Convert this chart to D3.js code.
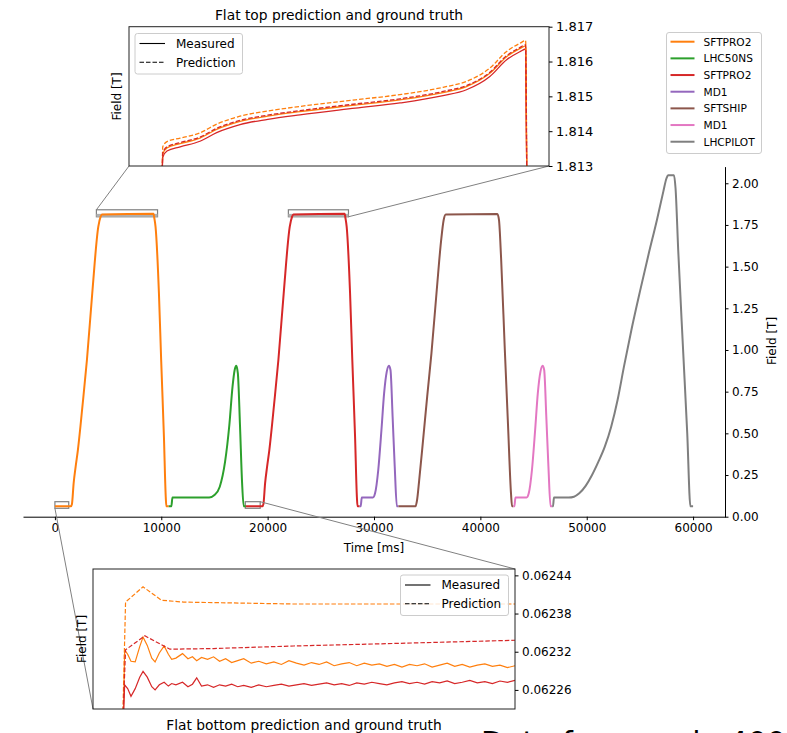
<!DOCTYPE html>
<html>
<head>
<meta charset="utf-8">
<script src="https://cdn.jsdelivr.net/npm/d3@7"></script>
<style>
  body { margin: 0; background: #fff; }
  text { font-family: "DejaVu Sans", sans-serif; fill: #000; }
</style>
</head>
<body>
<svg id="root" width="787" height="733"></svg>
<script>
// ---- data: one measured cycle per line, [time ms, field T]
const cycleNames = ["SFTPRO2", "LHC50NS", "SFTPRO2", "MD1", "SFTSHIP", "MD1", "LHCPILOT"];
const cycleColors = ["#ff7f0e", "#2ca02c", "#d62728", "#9467bd", "#8c564b", "#e377c2", "#7f7f7f"];

const sftpro2A = [[0,0.0623],[1500,0.0623],[1600,0.075],[1760,0.2],[1950,0.3],[2160,0.4],[2600,0.67],[3010,0.94],[3510,1.34],[4080,1.74],[4300,1.80],[4420,1.813],[9270,1.8165],[9350,1.79],[9460,1.74],[9780,1.34],[9990,0.94],[10250,0.48],[10420,0.12],[10480,0.0623],[10700,0.0623]];
const lhc50ns = [[10700,0.0623],[10950,0.0623],[11050,0.115],[14500,0.115],[15000,0.13],[15500,0.18],[16000,0.33],[16400,0.55],[16700,0.78],[16900,0.88],[17050,0.905],[17200,0.86],[17400,0.55],[17600,0.2],[17750,0.0623],[17950,0.0623]];
const sftpro2B = [[17950,0.0623],[19500,0.0623],[19600,0.075],[19760,0.2],[19950,0.3],[20160,0.4],[20600,0.67],[21010,0.94],[21510,1.34],[22080,1.74],[22300,1.80],[22420,1.813],[27240,1.8165],[27320,1.79],[27430,1.74],[27750,1.34],[27960,0.94],[28220,0.48],[28390,0.12],[28450,0.0623],[28650,0.0623]];
const md1A = [[28650,0.0623],[28750,0.0623],[28850,0.115],[29900,0.115],[30100,0.14],[30400,0.28],[30700,0.52],[30950,0.74],[31200,0.87],[31400,0.905],[31550,0.88],[31750,0.6],[31950,0.3],[32150,0.0623],[32300,0.0623]];
const sftship = [[32300,0.0623],[33900,0.0623],[34050,0.1],[34250,0.22],[34600,0.45],[35000,0.72],[35400,0.98],[35900,1.36],[36300,1.65],[36550,1.78],[36750,1.813],[41600,1.816],[41750,1.78],[41950,1.55],[42300,1.0],[42600,0.55],[42880,0.14],[42980,0.0623],[43100,0.0623]];
const md1B = [[43100,0.0623],[43200,0.0623],[43300,0.115],[44350,0.115],[44550,0.14],[44850,0.28],[45150,0.52],[45400,0.74],[45650,0.87],[45850,0.905],[46000,0.88],[46200,0.6],[46400,0.3],[46600,0.0623],[46750,0.0623]];
const lhcpilot = [[46750,0.0623],[46830,0.0623],[46920,0.115],[48300,0.115],[48800,0.12],[49300,0.14],[49900,0.185],[50500,0.25],[51100,0.33],[51700,0.42],[52300,0.54],[52900,0.70],[53500,0.90],[54200,1.12],[55000,1.35],[55800,1.57],[56600,1.78],[57200,1.95],[57500,2.03],[57650,2.048],[58200,2.048],[58350,1.97],[58600,1.6],[59060,1.0],[59450,0.5],[59750,0.0623],[60000,0.0623]];
const cycles = [sftpro2A, lhc50ns, sftpro2B, md1A, sftship, md1B, lhcpilot];

const xTicks = [0, 10000, 20000, 30000, 40000, 50000, 60000];
const yTicks = [0, 0.25, 0.5, 0.75, 1.0, 1.25, 1.5, 1.75, 2.0];

// flat top zoom: time within cycle (ms) and the two SFTPRO2 cycles
const topT = [4356, 4362, 4420, 4600, 4872, 5100, 5420, 5800, 6240, 7000, 7610, 8200, 8520, 8840, 9070, 9250, 9330, 9345];
const topOrangeMeas = [1.8129, 1.81334, 1.81352, 1.81364, 1.81380, 1.81405, 1.81428, 1.81443, 1.81456, 1.81475, 1.81490, 1.81511, 1.81528, 1.81566, 1.81614, 1.81637, 1.81645, 1.8129];
const topOrangePred = [1.8129, 1.81355, 1.81370, 1.81380, 1.81395, 1.81420, 1.81443, 1.81458, 1.81471, 1.81490, 1.81505, 1.81526, 1.81543, 1.81581, 1.81629, 1.81652, 1.81660, 1.8129];
const topRedMeas = [1.8129, 1.81325, 1.81343, 1.81355, 1.81371, 1.81396, 1.81419, 1.81434, 1.81447, 1.81466, 1.81481, 1.81502, 1.81519, 1.81557, 1.81605, 1.81628, 1.81636, 1.8129];
const topRedPred = [1.8129, 1.81337, 1.81355, 1.81367, 1.81383, 1.81408, 1.81431, 1.81446, 1.81459, 1.81478, 1.81493, 1.81514, 1.81531, 1.81569, 1.81617, 1.81640, 1.81648, 1.8129];
const topTicks = [1.813, 1.814, 1.815, 1.816, 1.817];

// flat bottom zoom
const bottomT = [-10, 0, 5, 15, 26, 40, 55, 66, 80, 95, 106, 120, 136, 150, 161, 175, 197, 215, 230, 244, 260, 280, 300, 320, 340, 360, 380, 400, 425, 450, 475, 500, 525, 550, 575, 600, 625, 650, 675, 700, 725, 750, 775, 800, 825, 850, 875, 900, 925, 950, 975, 1000, 1025, 1050, 1075, 1100, 1125, 1150, 1175, 1200, 1225, 1250, 1275, 1300];
const bottomOrangeMeas = [
  0.06220, 0.06220, 0.062323, 0.062316, 0.062305,
  0.062304, 0.062328, 0.062343, 0.062330, 0.062310,
  0.062304, 0.062318, 0.062329, 0.062316, 0.062308,
  0.062310, 0.062317, 0.062309, 0.062312, 0.062306,
  0.062311, 0.062308, 0.062312, 0.062305, 0.062309,
  0.062303, 0.062306, 0.062309, 0.062302, 0.062305,
  0.062301, 0.062304, 0.062300, 0.062306, 0.062302,
  0.062299, 0.062303, 0.062300, 0.062304, 0.062298,
  0.062301, 0.062303, 0.062298, 0.062302, 0.062299,
  0.062301, 0.062297, 0.062300, 0.062296, 0.062300,
  0.062298, 0.062301, 0.062296, 0.062299, 0.062302,
  0.062297, 0.062300, 0.062296, 0.062299, 0.062301,
  0.062297, 0.062299, 0.062295, 0.062298];
const bottomRedMeas = [
  0.06220, 0.06220, 0.062268, 0.062262, 0.062250,
  0.062262, 0.062280, 0.062289, 0.062280, 0.062265,
  0.062260, 0.062268, 0.062272, 0.062266, 0.062270,
  0.062268, 0.062272, 0.062265, 0.062269, 0.062279,
  0.062266, 0.062268, 0.062264, 0.062268, 0.062266,
  0.062269, 0.062265, 0.062267, 0.062264, 0.062268,
  0.062265, 0.062267, 0.062269, 0.062266, 0.062268,
  0.062270, 0.062267, 0.062269, 0.062271, 0.062268,
  0.062270, 0.062267, 0.062271, 0.062269, 0.062272,
  0.062270, 0.062268, 0.062271, 0.062273, 0.062270,
  0.062272, 0.062269, 0.062273, 0.062271, 0.062274,
  0.062270, 0.062272, 0.062275, 0.062271, 0.062273,
  0.062270, 0.062274, 0.062272, 0.062275];
const bottomOrangePred = [[-10,0.06220],[-2,0.06220],[8,0.062398],[66,0.062422],[127,0.062401],[200,0.062398],[565,0.062395],[900,0.062395],[1300,0.062395]];
const bottomRedPred = [[-10,0.06220],[-2,0.06220],[8,0.062323],[72,0.062345],[155,0.062324],[300,0.062325],[565,0.062329],[900,0.062333],[1300,0.062338]];
const bottomTicks = [0.06226, 0.06232, 0.06238, 0.06244];

// zoom windows marked on the main chart (time ranges, field ranges)
const topWindows = [[3900, 9650], [21950, 27600]];
const topWindowField = [1.799, 1.841];
const bottomWindows = [[0, 1300], [17900, 19300]];
const bottomWindowField = [0.0504, 0.09];

const svg = d3.select("#root");

// ---- main chart
const x = d3.scaleLinear([-3000, 63000], [23, 725]);
const y = d3.scaleLinear([0, 2.1], [516.7, 166.6]);

const xAxis = d3.axisBottom(x).tickValues(xTicks).tickFormat(d3.format("d"))
  .tickSize(3.5).tickSizeOuter(0).tickPadding(3.5);
const yAxis = d3.axisRight(y).tickValues(yTicks).tickFormat(d3.format(".2f"))
  .tickSize(3.5).tickSizeOuter(0).tickPadding(3.5);

svg.append("g").attr("transform", "translate(0,516.7)").call(xAxis)
  .call(g => g.selectAll("text").attr("font-size", 12).attr("font-family", "DejaVu Sans"));
svg.append("g").attr("transform", "translate(725,0)").call(yAxis)
  .call(g => g.selectAll("text").attr("font-size", 12).attr("font-family", "DejaVu Sans"));

svg.append("text").attr("x", 374).attr("y", 552).attr("text-anchor", "middle")
  .attr("font-size", 12).text("Time [ms]");
svg.append("text").attr("transform", "translate(776,341) rotate(-90)")
  .attr("text-anchor", "middle").attr("font-size", 12).text("Field [T]");

// zoom window markers
const grey = "#808080";
topWindows.forEach(w => {
  svg.append("rect")
    .attr("x", x(w[0])).attr("y", y(topWindowField[1]))
    .attr("width", x(w[1]) - x(w[0])).attr("height", y(topWindowField[0]) - y(topWindowField[1]))
    .attr("fill", "none").attr("stroke", grey).attr("stroke-width", 1.2);
  svg.append("rect")
    .attr("x", x(w[0])).attr("y", y(1.8165))
    .attr("width", x(w[1]) - x(w[0])).attr("height", y(topWindowField[0]) - y(1.8165))
    .attr("fill", "#b0b0b0");
});
bottomWindows.forEach(w => {
  svg.append("rect")
    .attr("x", x(w[0])).attr("y", y(bottomWindowField[1]))
    .attr("width", x(w[1]) - x(w[0])).attr("height", y(bottomWindowField[0]) - y(bottomWindowField[1]))
    .attr("fill", "none").attr("stroke", grey).attr("stroke-width", 1.2);
});

const line = d3.line().x(d => x(d[0])).y(d => y(d[1])).curve(d3.curveMonotoneX);
cycles.forEach((c, i) => {
  svg.append("path").datum(c)
    .attr("fill", "none").attr("stroke", cycleColors[i]).attr("stroke-width", 2)
    .attr("stroke-linejoin", "round").attr("d", line);
});

// legend
const leg = svg.append("g").attr("transform", "translate(666.5,32.5)");
leg.append("rect").attr("width", 95).attr("height", 121).attr("rx", 2.5)
  .attr("fill", "#fff").attr("fill-opacity", 0.8).attr("stroke", "#cccccc");
cycleNames.forEach((n, i) => {
  const yy = 9.2 + i * 16.67;
  leg.append("line").attr("x1", 4).attr("x2", 28).attr("y1", yy).attr("y2", yy)
    .attr("stroke", cycleColors[i]).attr("stroke-width", 2);
  leg.append("text").attr("x", 37).attr("y", yy + 3.8).attr("font-size", 10.6).text(n);
});

// ---- top inset: flat top
const xt = d3.scaleLinear([3900, 9650], [129, 549]);
const yt = d3.scaleLinear([1.813, 1.817], [166, 26.7]);

// connectors
svg.append("line").attr("x1", 129).attr("y1", 166)
  .attr("x2", x(topWindows[0][0])).attr("y2", y(topWindowField[1]))
  .attr("stroke", grey).attr("stroke-width", 1);
svg.append("line").attr("x1", 549).attr("y1", 166)
  .attr("x2", x(topWindows[1][1])).attr("y2", y(topWindowField[0]))
  .attr("stroke", grey).attr("stroke-width", 1);

svg.append("clipPath").attr("id", "top-area").append("rect")
  .attr("x", 129).attr("y", 26.7).attr("width", 420).attr("height", 139.3);

const topSeries = [
  { v: topOrangeMeas, c: "#ff7f0e", dash: null },
  { v: topRedMeas, c: "#d62728", dash: null },
  { v: topOrangePred, c: "#ff7f0e", dash: "4.5,2" },
  { v: topRedPred, c: "#d62728", dash: "4.5,2" }
];
const topLine = d3.line().x(d => xt(d[0])).y(d => yt(d[1])).curve(d3.curveMonotoneX);
topSeries.forEach(s => {
  svg.append("path").datum(topT.map((t, i) => [t, s.v[i]]))
    .attr("clip-path", "url(#top-area)")
    .attr("fill", "none").attr("stroke", s.c).attr("stroke-width", 1.3)
    .attr("stroke-dasharray", s.dash).attr("d", topLine);
});

svg.append("rect").attr("x", 129).attr("y", 26.7).attr("width", 420).attr("height", 139.3)
  .attr("fill", "none").attr("stroke", "#222").attr("stroke-width", 1);
svg.append("g").attr("transform", "translate(549,0)")
  .call(d3.axisRight(yt).tickValues(topTicks).tickFormat(d3.format(".3f"))
    .tickSize(3.5).tickSizeOuter(0).tickPadding(3.5))
  .call(g => g.select(".domain").remove())
  .call(g => g.selectAll("text").attr("font-size", 13).attr("font-family", "DejaVu Sans"));
svg.append("text").attr("x", 339).attr("y", 20).attr("text-anchor", "middle")
  .attr("font-size", 13.8).text("Flat top prediction and ground truth");
svg.append("text").attr("transform", "translate(121,96.5) rotate(-90)")
  .attr("text-anchor", "middle").attr("font-size", 12).text("Field [T]");

function styleLegend(g, w) {
  g.append("rect").attr("width", w).attr("height", 40.5).attr("rx", 2.5)
    .attr("fill", "#fff").attr("fill-opacity", 0.8).attr("stroke", "#cccccc");
  ["Measured", "Prediction"].forEach((n, i) => {
    const yy = 10 + i * 18.7;
    g.append("line").attr("x1", 4.5).attr("x2", 30).attr("y1", yy).attr("y2", yy)
      .attr("stroke", "#000").attr("stroke-width", 1.1)
      .attr("stroke-dasharray", i ? "4.5,2" : null);
    g.append("text").attr("x", 41).attr("y", yy + 4.4).attr("font-size", 12).text(n);
  });
}
styleLegend(svg.append("g").attr("transform", "translate(135,33.5)"), 107.5);

// ---- bottom inset: flat bottom
const xb = d3.scaleLinear([-100, 1300], [93, 515]);
const yb = d3.scaleLinear([0.06223, 0.06245], [709, 569]);

svg.append("line").attr("x1", x(bottomWindows[0][0])).attr("y1", y(bottomWindowField[0]))
  .attr("x2", 93).attr("y2", 709).attr("stroke", grey).attr("stroke-width", 1);
svg.append("line").attr("x1", x(bottomWindows[1][1])).attr("y1", y(bottomWindowField[1]))
  .attr("x2", 515).attr("y2", 569).attr("stroke", grey).attr("stroke-width", 1);

svg.append("clipPath").attr("id", "bottom-area").append("rect")
  .attr("x", 93).attr("y", 569).attr("width", 422).attr("height", 140);

const bLine = d3.line().x(d => xb(d[0])).y(d => yb(d[1]));
const bottomSeries = [
  { d: bottomT.map((t, i) => [t, bottomOrangeMeas[i]]), c: "#ff7f0e", dash: null },
  { d: bottomOrangePred, c: "#ff7f0e", dash: "4.5,2" },
  { d: bottomT.map((t, i) => [t, bottomRedMeas[i]]), c: "#d62728", dash: null },
  { d: bottomRedPred, c: "#d62728", dash: "4.5,2" }
];
bottomSeries.forEach(s => {
  svg.append("path").datum(s.d)
    .attr("clip-path", "url(#bottom-area)")
    .attr("fill", "none").attr("stroke", s.c).attr("stroke-width", 1.2)
    .attr("stroke-dasharray", s.dash).attr("d", bLine);
});

svg.append("rect").attr("x", 93).attr("y", 569).attr("width", 422).attr("height", 140)
  .attr("fill", "none").attr("stroke", "#222").attr("stroke-width", 1);
svg.append("g").attr("transform", "translate(515,0)")
  .call(d3.axisRight(yb).tickValues(bottomTicks).tickFormat(d3.format(".5f"))
    .tickSize(3.5).tickSizeOuter(0).tickPadding(3.5))
  .call(g => g.select(".domain").remove())
  .call(g => g.selectAll("text").attr("font-size", 12).attr("font-family", "DejaVu Sans"));
svg.append("text").attr("x", 304).attr("y", 730).attr("text-anchor", "middle")
  .attr("font-size", 13.8).text("Flat bottom prediction and ground truth");
svg.append("text").attr("transform", "translate(86,639) rotate(-90)")
  .attr("text-anchor", "middle").attr("font-size", 12).text("Field [T]");
styleLegend(svg.append("g").attr("transform", "translate(400.5,575)"), 108);

// cut-off caption at the bottom edge
svg.append("text").attr("x", 481).attr("y", 753).attr("font-size", 30)
  .text("Data from cycle 400");
</script>
</body>
</html>
